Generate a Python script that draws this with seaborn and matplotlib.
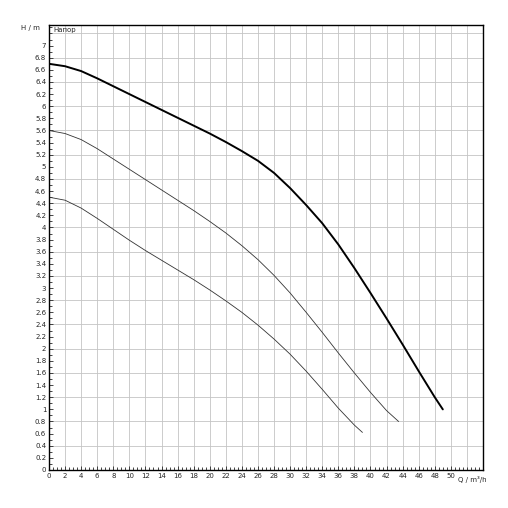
import numpy as np
import matplotlib
matplotlib.use("Agg")
import matplotlib.pyplot as plt
import seaborn as sns
from matplotlib.ticker import MultipleLocator

sns.set_style("white")
plt.rcParams["font.family"] = ["DejaVu Sans"]

# curve data (Q m3/h, H m)
q_max = [0, 2, 4, 6, 8, 10, 12, 14, 16, 18, 20, 22, 24, 26, 28, 30, 32, 34, 36, 38, 40, 42, 44, 46, 48, 49]
h_max = [6.7, 6.66, 6.58, 6.46, 6.33, 6.2, 6.07, 5.94, 5.81, 5.68, 5.55, 5.41, 5.26, 5.1, 4.9, 4.65,
         4.37, 4.07, 3.72, 3.33, 2.92, 2.5, 2.07, 1.63, 1.2, 1.0]
q_mid = [0, 2, 4, 6, 8, 10, 12, 14, 16, 18, 20, 22, 24, 26, 28, 30, 32, 34, 36, 38, 40, 42, 43.5]
h_mid = [5.6, 5.55, 5.45, 5.3, 5.13, 4.96, 4.79, 4.62, 4.45, 4.28, 4.1, 3.91, 3.7, 3.47, 3.21, 2.92,
         2.6, 2.27, 1.93, 1.6, 1.28, 0.98, 0.8]
q_low = [0, 2, 4, 6, 8, 10, 12, 14, 16, 18, 20, 22, 24, 26, 28, 30, 32, 34, 36, 38, 39]
h_low = [4.5, 4.45, 4.32, 4.15, 3.97, 3.79, 3.62, 3.46, 3.3, 3.14, 2.97, 2.79, 2.6, 2.39, 2.16, 1.91,
         1.63, 1.33, 1.02, 0.74, 0.62]

fig = plt.figure(figsize=(5.08, 5.08), dpi=100)
ax = fig.add_axes([49/508, 38/508, 434/508, 445/508])

sns.lineplot(x=q_max, y=h_max, ax=ax, color="black", lw=1.4)
sns.lineplot(x=q_mid, y=h_mid, ax=ax, color="#333333", lw=0.6)
sns.lineplot(x=q_low, y=h_low, ax=ax, color="#333333", lw=0.6)

ax.set_xlim(0, 54)
ax.set_ylim(0, 7.34)
ax.xaxis.set_minor_locator(MultipleLocator(0.5))
ax.yaxis.set_minor_locator(MultipleLocator(0.1))
ax.set_xticks(np.arange(0, 51, 2))
ax.set_yticks(np.arange(0, 7.01, 0.2))
ax.set_xticklabels([str(v) for v in range(0, 51, 2)])
ax.set_yticklabels([("%g" % round(v, 1)) for v in np.arange(0, 7.01, 0.2)])
ax.tick_params(which="both", direction="in", length=3, width=0.6, labelsize=5, pad=2,
               bottom=True, left=True)
ax.tick_params(which="minor", length=2)
for v in np.arange(0, 54.1, 2):
    ax.axvline(v, color="#c4c4c4", lw=0.6, zorder=0)
for v in np.arange(0, 7.35, 0.4):
    ax.axhline(v, color="#c4c4c4", lw=0.6, zorder=0)
for s in ax.spines.values():
    s.set_linewidth(1.0)
    s.set_color("black")

ax.text(-0.02, 1.0, "H / m", transform=ax.transAxes, ha="right", va="top", fontsize=5)
ax.text(0.01, 0.995, "Напор", transform=ax.transAxes, ha="left", va="top", fontsize=5)
ax.text(50.9, -0.1, "Q / m³/h", ha="left", va="top", fontsize=5)

fig.savefig("out.png", dpi=100)
